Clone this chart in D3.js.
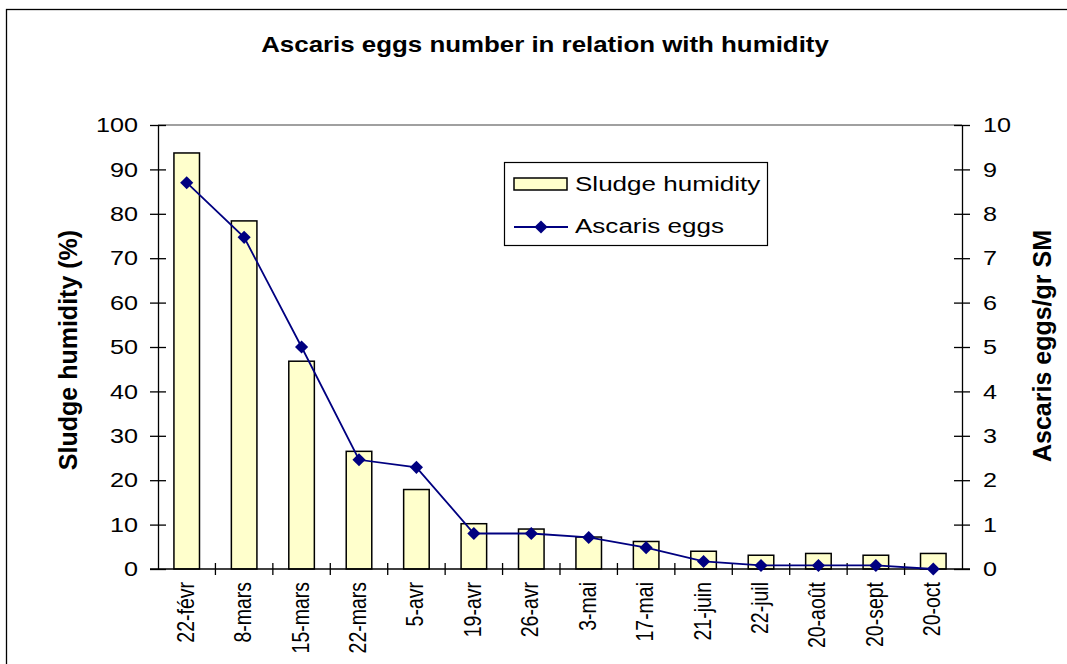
<!DOCTYPE html>
<html>
<head>
<meta charset="utf-8">
<script src="https://cdn.jsdelivr.net/npm/d3@7"></script>
<style>
  body { margin: 0; background: #fff; }
  text { font-family: Arial, "Liberation Sans", sans-serif; fill: #000; }
</style>
</head>
<body>
<div id="container"></div>
<script>
// data
const dates = ["22-févr", "8-mars", "15-mars", "22-mars", "5-avr", "19-avr", "26-avr",
               "3-mai", "17-mai", "21-juin", "22-juil", "20-août", "20-sept", "20-oct"];
const humidity = [93.7, 78.4, 46.8, 26.5, 17.9, 10.2, 9.0, 7.2, 6.2, 4.0, 3.1, 3.5, 3.1, 3.5];
const eggs = [8.7, 7.47, 5.0, 2.46, 2.29, 0.8, 0.8, 0.71, 0.48, 0.17, 0.08, 0.08, 0.08, 0];
const leftTicks = [0, 10, 20, 30, 40, 50, 60, 70, 80, 90, 100];
const rightTicks = [0, 1, 2, 3, 4, 5, 6, 7, 8, 9, 10];

const width = 1067, height = 664;
const x0 = 158, x1 = 962, yTop = 125, yBot = 569;
const sx = 1.2; // the original text looks stretched sideways

const svg = d3.select('#container').append('svg')
    .attr('width', width).attr('height', height);

// outer chart frame
svg.append('rect')
    .attr('x', 6.5).attr('y', 9.5).attr('width', 1070).attr('height', 700)
    .attr('fill', 'none').attr('stroke', '#000').attr('stroke-width', 1.3);

// scales
const x = d3.scaleBand().domain(dates).range([x0, x1]).paddingInner(0.555).paddingOuter(0.2775);
const xb = d3.scaleBand().domain(dates).range([x0, x1]);
const yL = d3.scaleLinear().domain([0, 100]).range([yBot, yTop]);
const yR = d3.scaleLinear().domain([0, 10]).range([yBot, yTop]);

// plot area top border
svg.append('line')
    .attr('x1', x0).attr('x2', x1).attr('y1', yTop).attr('y2', yTop)
    .attr('stroke', '#808080').attr('stroke-width', 1.3);

// bars
svg.selectAll('rect.bar').data(humidity).enter().append('rect')
    .attr('class', 'bar')
    .attr('x', (d, i) => x(dates[i]))
    .attr('width', x.bandwidth())
    .attr('y', d => yL(d))
    .attr('height', d => yBot - yL(d))
    .attr('fill', '#FFFFCC').attr('stroke', '#000').attr('stroke-width', 1.5);

// axes
const leftAxis = svg.append('g').attr('transform', `translate(${x0},0)`)
    .call(d3.axisLeft(yL).tickValues(leftTicks).tickSizeInner(8).tickSizeOuter(0).tickPadding(12));
leftAxis.selectAll('.tick line').attr('x2', 8).attr('x1', -8);
leftAxis.selectAll('.tick text').style('font-size', '21px')
    .attr('x', -20 / sx).attr('transform', `scale(${sx},1)`);

const rightAxis = svg.append('g').attr('transform', `translate(${x1},0)`)
    .call(d3.axisRight(yR).tickValues(rightTicks).tickSizeInner(8).tickSizeOuter(0).tickPadding(12));
rightAxis.selectAll('.tick line').attr('x1', -8).attr('x2', 8);
rightAxis.selectAll('.tick text').style('font-size', '21px')
    .attr('x', 21 / sx).attr('transform', `scale(${sx},1)`);

const bottom = svg.append('g').attr('transform', `translate(0,${yBot})`);
bottom.append('line').attr('x1', x0 - 8).attr('x2', x1 + 8).attr('stroke', '#000').attr('stroke-width', 1.3);
bottom.selectAll('line.tk').data(dates.slice(1)).enter().append('line')
    .attr('class', 'tk')
    .attr('x1', d => xb(d)).attr('x2', d => xb(d))
    .attr('y1', -6).attr('y2', 6)
    .attr('stroke', '#000').attr('stroke-width', 1.3);
bottom.selectAll('text').data(dates).enter().append('text')
    .attr('transform', d => `translate(${xb(d) + xb.bandwidth() / 2 + 7},13) rotate(-90) scale(1,${sx})`)
    .attr('text-anchor', 'end')
    .style('font-size', '19.5px')
    .text(d => d);

svg.selectAll('.domain').attr('stroke', '#000').attr('stroke-width', 1.3);
svg.selectAll('.tick line').attr('stroke', '#000').attr('stroke-width', 1.3);

// line series
const line = d3.line()
    .x((d, i) => xb(dates[i]) + xb.bandwidth() / 2)
    .y(d => yR(d));
svg.append('path').datum(eggs)
    .attr('d', line)
    .attr('fill', 'none').attr('stroke', '#000080').attr('stroke-width', 1.8);
const diamond = d3.symbol().type(d3.symbolDiamond2).size(110);
svg.selectAll('path.mk').data(eggs).enter().append('path')
    .attr('class', 'mk')
    .attr('d', diamond)
    .attr('transform', (d, i) => `translate(${xb(dates[i]) + xb.bandwidth() / 2},${yR(d)})`)
    .attr('fill', '#000080');

// titles
svg.append('text')
    .attr('transform', `translate(545,52) scale(1.15,1)`)
    .attr('text-anchor', 'middle')
    .style('font-size', '22.5px').style('font-weight', 'bold')
    .text('Ascaris eggs number in relation with humidity');
svg.append('text')
    .attr('transform', `translate(77,350) rotate(-90)`)
    .attr('text-anchor', 'middle')
    .style('font-size', '25px').style('font-weight', 'bold')
    .text('Sludge humidity (%)');
svg.append('text')
    .attr('transform', `translate(1051,346) rotate(-90)`)
    .attr('text-anchor', 'middle')
    .style('font-size', '25px').style('font-weight', 'bold')
    .text('Ascaris eggs/gr SM');

// legend
const lg = svg.append('g').attr('transform', 'translate(504,162)');
lg.append('rect').attr('x', 0.5).attr('y', 0.5).attr('width', 263).attr('height', 83)
    .attr('fill', '#fff').attr('stroke', '#000').attr('stroke-width', 1.2);
lg.append('rect').attr('x', 10).attr('y', 16).attr('width', 53).attr('height', 12)
    .attr('fill', '#FFFFCC').attr('stroke', '#000').attr('stroke-width', 1.5);
lg.append('text').attr('transform', `translate(71,29) scale(1.24,1)`)
    .style('font-size', '21px').text('Sludge humidity');
lg.append('line').attr('x1', 10).attr('x2', 64).attr('y1', 65).attr('y2', 65)
    .attr('stroke', '#000080').attr('stroke-width', 1.8);
lg.append('path').attr('d', diamond).attr('transform', 'translate(37,65)').attr('fill', '#000080');
lg.append('text').attr('transform', `translate(71,71) scale(1.24,1)`)
    .style('font-size', '21px').text('Ascaris eggs');
</script>
</body>
</html>
